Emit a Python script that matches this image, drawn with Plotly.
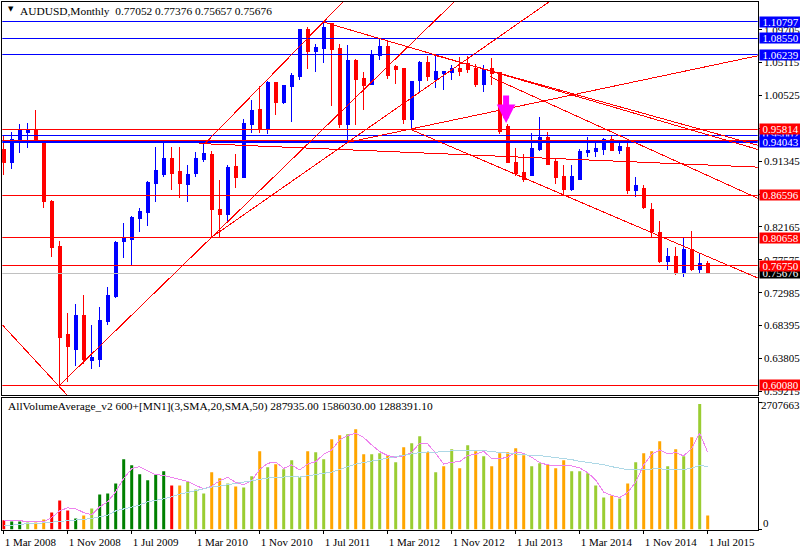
import plotly.graph_objects as go

FONT = "Liberation Sans Narrow"
# ---- monthly AUDUSD candles, Mar 2008 .. Jul 2015 ----
months = list(range(89))
opens = [.9299,.9118,.9424,.9535,.9577,.9382,.8575,.7949,.6711,.6502,.6975,.6349,.6363,.6892,.7239,.8019,.8046,.8339,.8422,.8826,.8951,.9173,.8993,.8812,.8965,.9159,.9229,.8464,.8394,.9062,
         .8909,.9647,.9855,.9591,1.0231,.9953,1.0175,1.0314,1.0968,1.0662,1.0704,1.1052,1.0704,.9647,1.0537,1.0287,1.0203,1.0607,1.0732,1.0454,1.0426,.9716,1.0259,1.0509,1.0273,1.0356,1.0370,1.0426,1.0495,1.0426,
         1.0203,1.0426,1.0370,.9619,.9118,.8979,.8937,.9299,.9466,.9132,.8923,.8742,.8881,.9257,.9271,.9299,.9438,.9285,.9327,.8728,.8756,.8464,.8144,.7740,.7810,.7587,.7907,.7629,.77052]
highs = [.9480,.9549,.9661,.9675,.9855,.9424,.8589,.8019,.7016,.7142,.7267,.6850,.7100,.7379,.8019,.8269,.8366,.8478,.8854,.9327,.9382,.9327,.9327,.9076,.9257,.9382,.9271,.8867,.9076,.9229,
         .9730,.9994,1.0189,1.0259,1.0231,1.0203,1.0370,1.0982,1.1010,1.0773,1.1080,1.1066,1.0773,1.0760,1.0565,1.0384,1.0690,1.0857,1.0829,1.0481,1.0426,1.0259,1.0537,1.0607,1.0621,1.0398,1.0481,1.0593,1.0607,1.0495,
         1.0481,1.0579,1.0384,.9661,.9313,.9229,.9535,.9758,.9549,.9160,.9076,.9076,.9299,.9466,.9382,.9452,.9507,.9382,.9382,.8909,.8798,.8547,.8297,.7921,.7935,.8060,.8158,.7852,.77376]
lows = [.8937,.9020,.9256,.9313,.9396,.8477,.7796,.6008,.6057,.6279,.6307,.6238,.6265,.6850,.7226,.7782,.7684,.8144,.8227,.8561,.8909,.8728,.8617,.8561,.8909,.9118,.8074,.8074,.8297,.8756,
        .8895,.9535,.9535,.9521,.9786,.9939,.9688,1.0273,1.0426,1.0384,1.0509,.9911,.9605,.9410,.9647,.9855,1.0203,1.0551,1.0287,1.0217,.9661,.9577,1.0092,1.0259,1.0161,1.0134,1.0273,1.0328,1.0370,1.0175,
        1.0106,1.0203,.9521,.9104,.8923,.8840,.8923,.9271,.9076,.8812,.8659,.8714,.8881,.9187,.9187,.9215,.9271,.9229,.8673,.8631,.8464,.8074,.7713,.7615,.7545,.7518,.7601,.7573,.75657]
closes = [.9118,.9438,.9563,.9577,.9410,.8575,.7935,.6669,.6544,.6975,.6363,.6391,.6906,.7253,.8005,.8060,.8353,.8436,.8840,.9007,.9173,.8965,.8826,.8951,.9173,.9243,.8464,.8394,.9048,.8909,
          .9661,.9841,.9591,1.0231,.9953,1.0189,1.0328,1.0968,1.0662,1.0718,1.0996,1.0690,.9647,1.0537,1.0273,1.0189,1.0621,1.0732,1.0328,1.0412,.9716,1.0245,1.0509,1.0314,1.0384,1.0384,1.0426,1.0384,1.0412,1.0203,
          1.0412,1.0356,.9549,.9118,.8965,.8881,.9313,.9466,.9090,.8909,.8742,.8923,.9271,.9285,.9313,.9438,.9285,.9340,.8728,.8798,.8492,.8158,.7740,.7810,.7587,.7907,.7629,.7713,.75676]

# ---- volume panel ----
volumes = [192000,165000,165000,144000,144000,206000,350000,597000,391000,226000,288000,432000,721000,741000,947000,1441000,1318000,1132000,1009000,1132000,1194000,906000,906000,988000,824000,741000,1174000,1050000,947000,885000,
           865000,1091000,1606000,1277000,1338000,1235000,1421000,1071000,1606000,1585000,1441000,1853000,1935000,1956000,2059000,1544000,1544000,1565000,1524000,1379000,1688000,1771000,1915000,1585000,1174000,1297000,1647000,1256000,1729000,1606000,
           1503000,1297000,1565000,1585000,1668000,1524000,1297000,1359000,1338000,1256000,1421000,1194000,1194000,1153000,906000,659000,700000,638000,947000,1379000,1565000,1606000,1812000,1297000,1647000,1503000,1894000,2574000,287935]
volume_kind = list("rggyoorrrgoyggggggggg" + "royyyooyoyyoy" + "oyyyoyyooyooyyoyoyyoyoyoyoyoooooyy" + "oooyyyyyoyoyoooyoyoyo")
vol_palette = {"r": "#FF0000", "g": "#008000", "y": "#9ACD32", "o": "#FFA500"}
ma_fast = [192,185,185,158,158,165,247,384,446,425,350,302,467,570,776,1050,1249,1290,1208,1126,1112,1071,1029,988,906,837,892,1002,1071,968,920,1002,1235,1359,
           1386,1256,1325,1222,1345,1393,1544,1633,1839,1928,1977,1887,1736,1599,1517,1482,1510,1585,1771,1757,1565,1345,1379,1393,1517,1544,1606,1455,1455,1482,1592,1565,1482,1373,
           1325,1318,1325,1304,1263,1167,1016,769,700,659,755,981,1325,1544,1633,1551,1578,1510,1668,1977,1586.03]
ma_slow = [89,89,110,110,124,137,151,165,178,185,206,226,261,295,384,425,467,501,570,597,631,673,727,762,803,830,872,892,920,933,961,1002,1029,1057,
           1071,1084,1084,1077,1105,1132,1160,1180,1235,1290,1345,1373,1407,1441,1476,1496,1524,1558,1578,1592,1585,1606,1620,1620,1620,1620,1620,1599,1578,1565,1551,1537,1517,1517,
           1496,1489,1462,1434,1400,1379,1359,1331,1290,1263,1228,1222,1222,1242,1249,1222,1222,1228,1263,1318,1288.391]

# ---- levels and labels ----
price_ticks = [1.09705,1.05115,1.00525,.95935,.91345,.86755,.82165,.77575,.72985,.68395,.63805,.59215]
date_tick_months = [0,8,16,24,32,40,48,56,64,72,80,88]
date_tick_labels = ["1 Mar 2008","1 Nov 2008","1 Jul 2009","1 Mar 2010","1 Nov 2010","1 Jul 2011","1 Mar 2012","1 Nov 2012","1 Jul 2013","1 Mar 2014","1 Nov 2014","1 Jul 2015"]
blue_levels = [1.10797,1.08550,1.06239,.9500]
red_levels = [.95814,.86596,.80658,.76750,.60080]
thick_level = .94043
thin_red_level = .9418
last_price = .75676
level_labels = [(.9500,"0.95002","#0000FF","#FFFFFF"),(1.10797,"1.10797","#0000FF","#FFFFFF"),(1.08550,"1.08550","#0000FF","#FFFFFF"),(1.06239,"1.06239","#0000FF","#FFFFFF"),
                (.95814,"0.95814","#FF0000","#FFFFFF"),(.94043,"0.94043","#0000FF","#FFFFFF"),(.86596,"0.86596","#FF0000","#FFFFFF"),(.80658,"0.80658","#FF0000","#FFFFFF"),
                (.75676,"0.75676","#000000","#FFFFFF"),(.76750,"0.76750","#FF0000","#FFFFFF"),(.60080,"0.60080","#FF0000","#FFFFFF")]

# trend lines (month index, price)
trend_lines = [
    ([7,26],[.6008,.8074]),
    ([26,56.3],[.8074,1.1358]),
    ([26,68.15],[.8074,1.1358]),
    ([25.16,42.4],[.9382,1.1358]),
    ([-.175,7.875],[.6850,.5876]),
    ([39.9,94.25],[1.1080,.9299]),
    ([53.66,94.25],[1.0621,.9358]),
    ([60.8,94.25],[1.0314,.8617]),
    ([50.9,94.25],[.9577,.7504]),
    ([42.9,94.25],[.9396,1.0607]),
    ([24.4,94.25],[.9382,.9052]),
]
X_RANGE = [-.175,94.25]
P_RANGE = [.5869,1.1358]
V_RANGE = [0,2707663]
W,H = 800,550

fig = go.Figure()
for lv in blue_levels:
    fig.add_trace(go.Scatter(x=X_RANGE,y=[lv,lv],mode="lines",line=dict(color="#0000FF",width=1),hoverinfo="skip"))
fig.add_trace(go.Scatter(x=X_RANGE,y=[thick_level]*2,mode="lines",line=dict(color="#0000FF",width=3),hoverinfo="skip"))
for lv in red_levels+[thin_red_level]:
    fig.add_trace(go.Scatter(x=X_RANGE,y=[lv,lv],mode="lines",line=dict(color="#FF0000",width=1),hoverinfo="skip"))
fig.add_trace(go.Scatter(x=X_RANGE,y=[last_price]*2,mode="lines",line=dict(color="#C0C0C0",width=1),hoverinfo="skip"))
for tx,ty in trend_lines:
    fig.add_trace(go.Scatter(x=tx,y=ty,mode="lines",line=dict(color="#FF0000",width=1),hoverinfo="skip"))
fig.add_trace(go.Candlestick(x=months,open=opens,high=highs,low=lows,close=closes,whiskerwidth=0,
    increasing=dict(line=dict(color="#0000FF",width=1),fillcolor="#0000FF"),
    decreasing=dict(line=dict(color="#FF0000",width=1),fillcolor="#FF0000")))
fig.add_trace(go.Bar(x=months,y=volumes,width=.375,marker=dict(color=[vol_palette[c] for c in volume_kind],line=dict(width=0)),xaxis="x2",yaxis="y2"))
fig.add_trace(go.Scatter(x=months,y=[v*1000 for v in ma_fast],mode="lines",line=dict(color="#EE82EE",width=1),xaxis="x2",yaxis="y2"))
fig.add_trace(go.Scatter(x=months,y=[v*1000 for v in ma_slow],mode="lines",line=dict(color="#ADD8E6",width=1),xaxis="x2",yaxis="y2"))

ann = []
for price,txt,bg,fg in level_labels:
    ann.append(dict(xref="paper",yref="y",x=759/W,y=price,xanchor="left",yanchor="middle",text=txt,showarrow=False,
                    bgcolor=bg,font=dict(color=fg,size=11,family=FONT),width=41,height=10,borderpad=0,align="center"))
ann.append(dict(xref="paper",yref="paper",x=6/W,y=1-9/H,xanchor="left",yanchor="middle",text="▼",showarrow=False,font=dict(size=7,family="DejaVu Sans",color="#000000")))
ann.append(dict(xref="paper",yref="paper",x=18/W,y=1-11/H,xanchor="left",yanchor="middle",text="AUDUSD,Monthly  0.77052 0.77376 0.75657 0.75676",showarrow=False,font=dict(size=11.4,family=FONT,color="#000000")))
ann.append(dict(xref="paper",yref="paper",x=6/W,y=1-407.5/H,xanchor="left",yanchor="middle",text="AllVolumeAverage_v2 600+[MN1](3,SMA,20,SMA,50) 287935.00 1586030.00 1288391.10",showarrow=False,font=dict(size=11.4,family=FONT,color="#000000")))
ann.append(dict(xref="paper",yref="paper",x=759/W,y=1-406/H,xanchor="left",yanchor="middle",text="2707663.1",showarrow=False,font=dict(size=11,family=FONT,color="#000000")))
ann.append(dict(xref="paper",yref="paper",x=761/W,y=1-525/H,xanchor="left",yanchor="middle",text="0",showarrow=False,font=dict(size=11,family=FONT,color="#000000")))
ann.append(dict(xref="x",yref="y",x=62.8,y=.9667,ax=0,ay=-29,axref="pixel",ayref="pixel",showarrow=True,arrowhead=2,arrowsize=.62,arrowwidth=6,arrowcolor="#FF00FF",text=""))

fig.update_layout(width=W,height=H,margin=dict(l=0,r=0,t=0,b=0),paper_bgcolor="#FFFFFF",plot_bgcolor="#FFFFFF",showlegend=False,
    boxgap=.4,annotations=ann,hovermode=False,
    font=dict(family=FONT,size=11,color="#000000"),
    xaxis=dict(domain=[2.3/W,757.7/W],range=X_RANGE,showgrid=False,zeroline=False,showticklabels=False,ticks="",showline=True,mirror=True,linecolor="#000000",linewidth=1,rangeslider=dict(visible=False),anchor="y"),
    yaxis=dict(domain=[1-396.5/H,1-2/H],range=P_RANGE,side="right",showgrid=False,zeroline=False,tickvals=price_ticks,ticktext=[f"{t:.5f}" for t in price_ticks],ticks="outside",ticklen=3,tickcolor="#000000",showline=True,mirror=True,linecolor="#000000",linewidth=1,anchor="x",tickfont=dict(size=11,family=FONT)),
    xaxis2=dict(domain=[2.3/W,757.7/W],range=X_RANGE,showgrid=False,zeroline=False,tickvals=date_tick_months,ticktext=date_tick_labels,ticks="outside",ticklen=3,ticklabelstandoff=2,tickcolor="#000000",ticklabelposition="outside right",showline=True,mirror=True,linecolor="#000000",linewidth=1,anchor="y2",tickfont=dict(size=11,family=FONT)),
    yaxis2=dict(domain=[1-531.5/H,1-399/H],range=V_RANGE,side="right",showgrid=False,zeroline=False,tickvals=[0,2600000],showticklabels=False,ticks="outside",ticklen=3,tickcolor="#000000",showline=True,mirror=True,linecolor="#000000",linewidth=1,anchor="x2"),
)
assert all(len(a)==89 for a in (opens,highs,lows,closes,volumes,volume_kind,ma_fast,ma_slow))
fig.write_html("out.html",config=dict(displayModeBar=False),
    post_script="document.body.style.margin='0';document.documentElement.style.overflow='hidden';"
                "document.querySelectorAll('.scatterlayer path,.boxlayer path,.crisp').forEach(function(p){p.style.shapeRendering='crispEdges';});")
